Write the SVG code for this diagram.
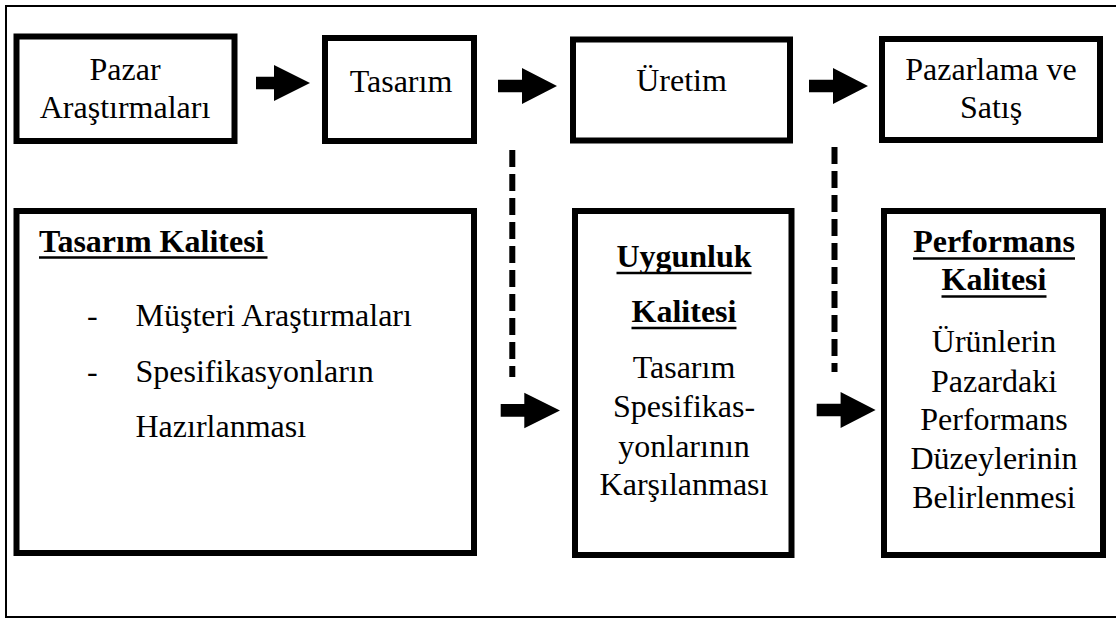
<svg xmlns="http://www.w3.org/2000/svg" width="1116" height="619" viewBox="0 0 1116 619">
<style>
.box{fill:#fff;stroke:#000;stroke-width:6}
.t{font-family:"Liberation Serif","Times New Roman","DejaVu Serif",serif;font-size:32px;fill:#000;text-anchor:middle}
.l{text-anchor:start}
.b{font-weight:bold}
.u{stroke:#000;stroke-width:2.5}
.dash{stroke:#000;stroke-width:6;stroke-dasharray:17 7;fill:none}
.arr{fill:#000}
</style>
<rect x="6" y="6" width="1114" height="611" fill="#fff" stroke="#000" stroke-width="2"/>
<g id="n1"><rect class="box" x="16.5" y="36.5" width="218" height="104.5"/>
<text class="t" x="125" y="80">Pazar</text><text class="t" x="125" y="118">Araştırmaları</text></g>
<g id="n2"><rect class="box" x="325" y="38" width="149" height="103"/>
<text class="t" x="401" y="92">Tasarım</text></g>
<g id="n3"><rect class="box" x="573" y="39.5" width="217" height="101"/>
<text class="t" x="681.5" y="91">Üretim</text></g>
<g id="n4"><rect class="box" x="882" y="39" width="218" height="101"/>
<text class="t" x="991" y="80">Pazarlama ve</text><text class="t" x="991" y="118">Satış</text></g>
<g id="n5"><rect class="box" x="16.5" y="211" width="457.5" height="342"/>
<text class="t l b" x="39" y="252">Tasarım Kalitesi</text>
<line class="u" x1="39" y1="257.5" x2="267.5" y2="257.5"/>
<text class="t l" x="87" y="326">-</text><text class="t l" x="135.5" y="326">Müşteri Araştırmaları</text>
<text class="t l" x="87" y="382">-</text><text class="t l" x="135.5" y="382">Spesifikasyonların</text>
<text class="t l" x="135.5" y="437">Hazırlanması</text></g>
<g id="n6"><rect class="box" x="575" y="211" width="216.5" height="344"/>
<text class="t b" x="684" y="267">Uygunluk</text>
<line class="u" x1="616.5" y1="273" x2="751.5" y2="273"/>
<text class="t b" x="684" y="322">Kalitesi</text>
<line class="u" x1="631.5" y1="328" x2="736.5" y2="328"/>
<text class="t" x="684" y="378">Tasarım</text>
<text class="t" x="684" y="417">Spesifikas-</text>
<text class="t" x="684" y="457">yonlarının</text>
<text class="t" x="684" y="495">Karşılanması</text></g>
<g id="n7"><rect class="box" x="884" y="211" width="219" height="344"/>
<text class="t b" x="994" y="252">Performans</text>
<line class="u" x1="913" y1="258.5" x2="1075" y2="258.5"/>
<text class="t b" x="994" y="290">Kalitesi</text>
<line class="u" x1="941.5" y1="296.5" x2="1046.5" y2="296.5"/>
<text class="t" x="994" y="352">Ürünlerin</text>
<text class="t" x="994" y="392">Pazardaki</text>
<text class="t" x="994" y="430">Performans</text>
<text class="t" x="994" y="469">Düzeylerinin</text>
<text class="t" x="994" y="508">Belirlenmesi</text></g>
<g id="connectors">
<polygon class="arr" points="256,76.7 274,76.7 274,65 310,83 274,101 274,89.3 256,89.3"/>
<polygon class="arr" points="498,79.7 522,79.7 522,68 557,86 522,104 522,92.3 498,92.3"/>
<polygon class="arr" points="809,79.7 833,79.7 833,68 868,86 833,104 833,92.3 809,92.3"/>
<polygon class="arr" points="500.7,404 524.3,404 524.3,392.7 560,410.5 524.3,428.3 524.3,416.7 500.7,416.7"/>
<polygon class="arr" points="816.7,403.7 840.6,403.7 840.6,392 875.6,410 840.6,428 840.6,416.3 816.7,416.3"/>
<line class="dash" x1="512.3" y1="150" x2="512.3" y2="377"/>
<line class="dash" x1="834.5" y1="147" x2="834.5" y2="372"/>
</g>
</svg>
